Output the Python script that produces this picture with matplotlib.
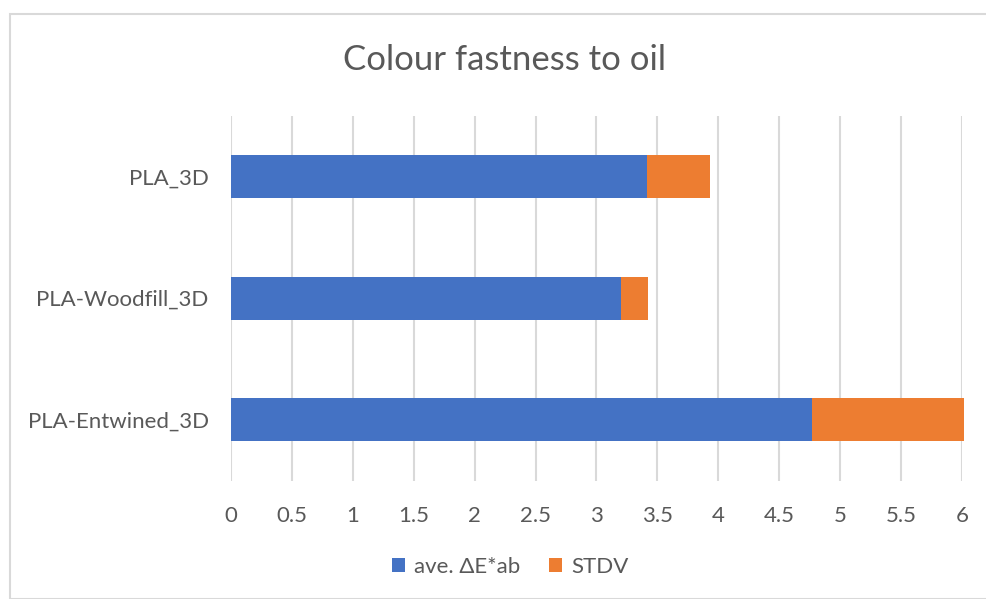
import matplotlib
matplotlib.use("Agg")
import matplotlib.pyplot as plt
from matplotlib.patches import Rectangle

categories = ["PLA_3D", "PLA-Woodfill_3D", "PLA-Entwined_3D"]
ave_de = [3.415, 3.20, 4.77]
stdv = [0.515, 0.22, 1.25]
xticks = [0, 0.5, 1, 1.5, 2, 2.5, 3, 3.5, 4, 4.5, 5, 5.5, 6]
xticklabels = ["0", "0.5", "1", "1.5", "2", "2.5", "3", "3.5", "4", "4.5", "5", "5.5", "6"]

plt.rcParams['font.family'] = ['Lato', 'DejaVu Sans']
text_col = "#595959"
blue = "#4472C4"
orange = "#ED7D31"

W, H = 987, 599
fig = plt.figure(figsize=(W / 100, H / 100), dpi=100)
fig.patch.set_facecolor("white")

# chart-area frame
fig.patches.append(Rectangle((9.5 / W, 0), 1, 1 - 13.5 / H, transform=fig.transFigure,
                             fill=False, edgecolor="#D9D9D9", linewidth=1.5))

left, right = 231 / W, 962 / W
bottom, top = 1 - 480.5 / H, 1 - 115.75 / H
ax = fig.add_axes([left, bottom, right - left, top - bottom])

y = list(range(len(categories)))
ax.barh(y, ave_de, height=0.354, color=blue, zorder=3, label="ave. \u0394E*ab", clip_on=False)
ax.barh(y, stdv, left=ave_de, height=0.354, color=orange, zorder=3, label="STDV", clip_on=False)

ax.set_xlim(0, 6)
ax.set_ylim(len(categories) - 0.5, -0.5)
ax.set_yticks(y)
ax.set_yticklabels(categories, fontsize=16, color=text_col)
ax.set_xticks(xticks)
ax.set_xticklabels(xticklabels, fontsize=16, color=text_col)
ax.tick_params(axis="x", length=0, pad=18)
ax.tick_params(axis="y", length=0, pad=16)
ax.grid(axis="x", color="#D9D9D9", linewidth=1.5, zorder=0)
for s in ax.spines.values():
    s.set_visible(False)

fig.text(505 / W, 1 - 60 / H, "Colour fastness to oil", ha="center", va="center",
         fontsize=25, color=text_col)

leg = fig.legend(loc="center", bbox_to_anchor=(510 / W, 1 - 567 / H), ncol=2, frameon=False,
                 fontsize=16, handlelength=0.6, handleheight=0.6, handletextpad=0.4,
                 columnspacing=1.3)
for t in leg.get_texts():
    t.set_color(text_col)

fig.savefig("out.png", dpi=100, facecolor="white")
